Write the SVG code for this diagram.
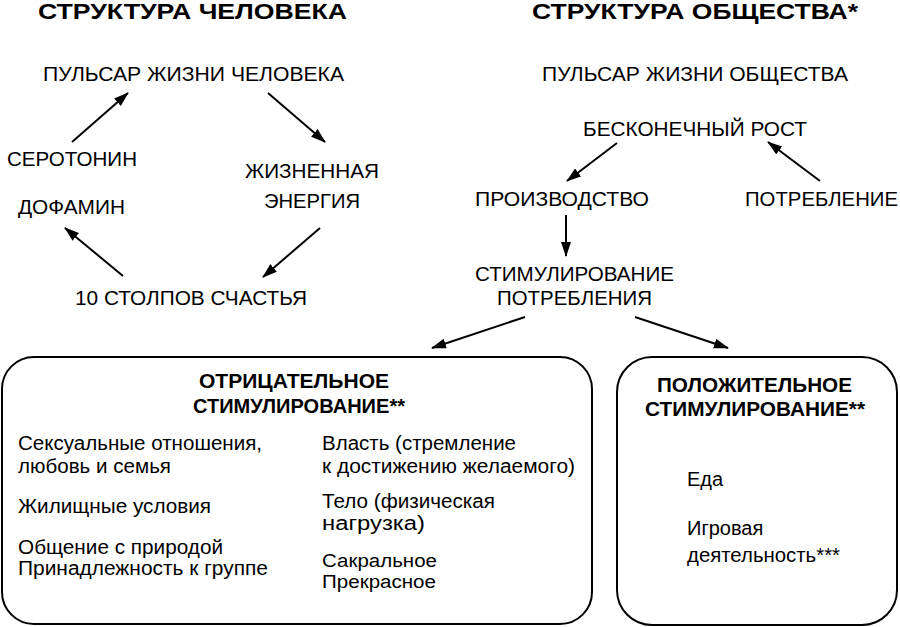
<svg xmlns="http://www.w3.org/2000/svg" width="900" height="627" viewBox="0 0 900 627">
<style>
text { font-family: "Liberation Sans", Arial, sans-serif; fill: #000; }
.title { font-size: 22px; font-weight: bold; }
.lbl { font-size: 19.5px; }
.hdr { font-size: 20px; font-weight: bold; }
.body { font-size: 20px; }
.tight { font-size: 18px; }
.box { fill: #fff; stroke: #000; stroke-width: 2; }
.arrow { stroke: #000; stroke-width: 2; fill: none; marker-end: url(#ah); }
</style>
<defs>
<marker id="ah" markerUnits="userSpaceOnUse" markerWidth="16" markerHeight="12" refX="14" refY="5" orient="auto">
<path d="M0,0 L15,5 L0,10 z" fill="#000"/>
</marker>
</defs>
<rect width="900" height="627" fill="#fff"/>

<g id="title-human"><text class="title" x="38" y="19" textLength="309" lengthAdjust="spacingAndGlyphs">СТРУКТУРА ЧЕЛОВЕКА</text></g>
<g id="title-society"><text class="title" x="532" y="19" textLength="326" lengthAdjust="spacingAndGlyphs">СТРУКТУРА ОБЩЕСТВА*</text></g>

<g id="pulsar-human"><text class="lbl" x="43" y="81" textLength="301" lengthAdjust="spacingAndGlyphs">ПУЛЬСАР ЖИЗНИ ЧЕЛОВЕКА</text></g>
<g id="serotonin"><text class="lbl" x="7" y="166" textLength="130" lengthAdjust="spacingAndGlyphs">СЕРОТОНИН</text></g>
<g id="dopamine"><text class="lbl" x="18" y="214" textLength="107" lengthAdjust="spacingAndGlyphs">ДОФАМИН</text></g>
<g id="energy">
<text class="lbl" x="245" y="178" textLength="134" lengthAdjust="spacingAndGlyphs">ЖИЗНЕННАЯ</text>
<text class="lbl" x="264" y="208" textLength="96" lengthAdjust="spacingAndGlyphs">ЭНЕРГИЯ</text>
</g>
<g id="pillars"><text class="lbl" x="75" y="305" textLength="232" lengthAdjust="spacingAndGlyphs">10 СТОЛПОВ СЧАСТЬЯ</text></g>

<g id="pulsar-society"><text class="lbl" x="542" y="81" textLength="306" lengthAdjust="spacingAndGlyphs">ПУЛЬСАР ЖИЗНИ ОБЩЕСТВА</text></g>
<g id="growth"><text class="lbl" x="583" y="136" textLength="224" lengthAdjust="spacingAndGlyphs">БЕСКОНЕЧНЫЙ РОСТ</text></g>
<g id="production"><text class="lbl" x="475" y="206" textLength="174" lengthAdjust="spacingAndGlyphs">ПРОИЗВОДСТВО</text></g>
<g id="consumption"><text class="lbl" x="745" y="206" textLength="153" lengthAdjust="spacingAndGlyphs">ПОТРЕБЛЕНИЕ</text></g>
<g id="stimulation">
<text class="lbl" x="475" y="281" textLength="199" lengthAdjust="spacingAndGlyphs">СТИМУЛИРОВАНИЕ</text>
<text class="lbl" x="497" y="305" textLength="155" lengthAdjust="spacingAndGlyphs">ПОТРЕБЛЕНИЯ</text>
</g>

<g id="negative">
<rect class="box" x="2" y="357" width="590" height="267" rx="32" ry="32"/>
<text class="hdr" x="199" y="388" textLength="190" lengthAdjust="spacingAndGlyphs">ОТРИЦАТЕЛЬНОЕ</text>
<text class="hdr" x="193" y="413" textLength="212" lengthAdjust="spacingAndGlyphs">СТИМУЛИРОВАНИЕ**</text>
<text class="body" x="18" y="450" textLength="244" lengthAdjust="spacingAndGlyphs">Сексуальные отношения,</text>
<text class="body" x="18" y="473" textLength="153" lengthAdjust="spacingAndGlyphs">любовь и семья</text>
<text class="body" x="18" y="513" textLength="193" lengthAdjust="spacingAndGlyphs">Жилищные условия</text>
<text class="body" x="18" y="554" textLength="205" lengthAdjust="spacingAndGlyphs">Общение с природой</text>
<text class="body" x="18" y="575" textLength="250" lengthAdjust="spacingAndGlyphs">Принадлежность к группе</text>
<text class="body" x="322" y="450" textLength="194" lengthAdjust="spacingAndGlyphs">Власть (стремление</text>
<text class="body" x="322" y="473" textLength="253" lengthAdjust="spacingAndGlyphs">к достижению желаемого)</text>
<text class="body" x="322" y="508" textLength="173" lengthAdjust="spacingAndGlyphs">Тело (физическая</text>
<text class="body" x="322" y="530" textLength="103" lengthAdjust="spacingAndGlyphs">нагрузка)</text>
<text class="body tight" x="322" y="567" textLength="115" lengthAdjust="spacingAndGlyphs">Сакральное</text>
<text class="body tight" x="322" y="588" textLength="114" lengthAdjust="spacingAndGlyphs">Прекрасное</text>
</g>

<g id="positive">
<rect class="box" x="617" y="357" width="280" height="268" rx="35" ry="35"/>
<text class="hdr" x="657" y="392" textLength="195" lengthAdjust="spacingAndGlyphs">ПОЛОЖИТЕЛЬНОЕ</text>
<text class="hdr" x="645" y="416" textLength="220" lengthAdjust="spacingAndGlyphs">СТИМУЛИРОВАНИЕ**</text>
<text class="body" x="687" y="486">Еда</text>
<text class="body" x="687" y="535">Игровая</text>
<text class="body" x="687" y="562" textLength="153" lengthAdjust="spacingAndGlyphs">деятельность***</text>
</g>

<g id="connectors">
<line class="arrow" x1="72" y1="142" x2="128" y2="93"/>
<line class="arrow" x1="268" y1="93" x2="325" y2="142"/>
<line class="arrow" x1="320" y1="228" x2="263" y2="277"/>
<line class="arrow" x1="123" y1="276" x2="65" y2="228"/>
<line class="arrow" x1="617" y1="143" x2="567" y2="181"/>
<line class="arrow" x1="820" y1="181" x2="768" y2="142"/>
<line class="arrow" x1="566" y1="215" x2="566" y2="256"/>
<line class="arrow" x1="525" y1="317" x2="432" y2="348"/>
<line class="arrow" x1="635" y1="317" x2="728" y2="348"/>
</g>
</svg>
